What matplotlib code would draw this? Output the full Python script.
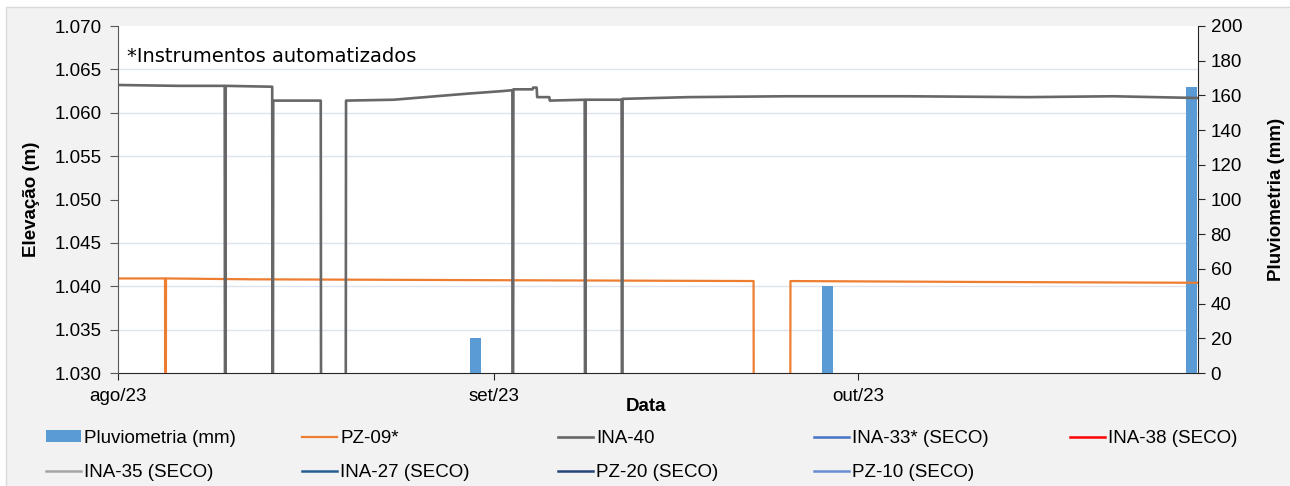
import matplotlib.pyplot as plt
import matplotlib.ticker as mticker
from matplotlib.patches import Rectangle
import pandas as pd

# Pluviometria (mm)
chuva_datas = ['2023-08-30', '2023-09-28', '2023-10-28']
chuva_mm = [20, 50, 165]

# PZ-09*  (1.000 = leitura falha, fica fora da escala)
pz09_datas = ['2023-08-01 00:00', '2023-08-04 21:00', '2023-08-04 22:00', '2023-08-04 23:00',
              '2023-08-12 00:00', '2023-09-01 00:00', '2023-09-22 09:00', '2023-09-22 10:00',
              '2023-09-25 09:00', '2023-09-25 10:00', '2023-10-10 00:00', '2023-10-29 00:00']
pz09_elev = [1.0409, 1.0409, 1.000, 1.0409,
             1.0408, 1.0407, 1.0406, 1.000,
             1.000, 1.0406, 1.0405, 1.0404]

# INA-40
ina40_datas = ['2023-08-01 00:00', '2023-08-06 00:00', '2023-08-09 19:00', '2023-08-09 20:00',
               '2023-08-09 21:00', '2023-08-13 17:00', '2023-08-13 18:00', '2023-08-13 19:00',
               '2023-08-17 17:00', '2023-08-17 18:00', '2023-08-19 18:00', '2023-08-19 19:00',
               '2023-08-23 17:00', '2023-08-29 19:00', '2023-09-01 17:00', '2023-09-02 12:00',
               '2023-09-02 13:00', '2023-09-02 14:00', '2023-09-04 04:00', '2023-09-04 05:00',
               '2023-09-04 12:00', '2023-09-04 13:00', '2023-09-05 13:00', '2023-09-05 14:00',
               '2023-09-08 11:00', '2023-09-08 12:00', '2023-09-08 13:00', '2023-09-11 12:00',
               '2023-09-11 13:00', '2023-09-11 14:00', '2023-09-17 00:00', '2023-09-25 00:00',
               '2023-10-05 00:00', '2023-10-15 00:00', '2023-10-22 00:00', '2023-10-29 00:00']
ina40_elev = [1.0632, 1.0631, 1.0631, 1.000,
              1.0631, 1.0630, 1.000, 1.0614,
              1.0614, 1.000, 1.000, 1.0614,
              1.0615, 1.0622, 1.0625, 1.0626,
              1.000, 1.0627, 1.0627, 1.0629,
              1.0629, 1.0618, 1.0618, 1.0614,
              1.0615, 1.000, 1.0615, 1.0615,
              1.000, 1.0616, 1.0618, 1.0619,
              1.0619, 1.0618, 1.0619, 1.0617]

# instrumentos secos (sem leitura)
secos = ['INA-33* (SECO)', 'INA-38 (SECO)', 'INA-35 (SECO)', 'INA-27 (SECO)', 'PZ-20 (SECO)', 'PZ-10 (SECO)']
cores_secos = ['#4472C4', '#FF0000', '#A5A5A5', '#255E91', '#264478', '#698ED0']

meses = ['2023-08-01', '2023-09-01', '2023-10-01']
meses_rotulos = ['ago/23', 'set/23', 'out/23']

plt.rcParams['font.family'] = ['Liberation Sans', 'DejaVu Sans']
plt.rcParams['font.size'] = 13.5

fig = plt.figure(figsize=(12.9, 4.86), dpi=100, facecolor='white')
fig.patches.append(Rectangle((6 / 1290, -0.01), 1.02, 1 - 7 / 486 + 0.01, transform=fig.transFigure,
                             facecolor='#f2f2f2', edgecolor='#d9d9d9', lw=1, zorder=-10))

ax2 = fig.add_axes([118 / 1290, 1 - 373 / 486, 1080 / 1290, 347 / 486])
ax1 = ax2.twinx()
ax1.yaxis.tick_left()
ax1.yaxis.set_label_position('left')
ax2.yaxis.tick_right()
ax2.yaxis.set_label_position('right')
ax1.set_zorder(ax2.get_zorder() + 1)
ax1.patch.set_visible(False)
ax2.set_facecolor('white')

# barras
barras = ax2.bar(pd.to_datetime(chuva_datas), chuva_mm, width=0.9, align='edge',
                 color='#5B9BD5', label='Pluviometria (mm)', zorder=3)
ax2.set_ylim(0, 200)
ax2.yaxis.set_major_locator(mticker.MultipleLocator(20))
ax2.yaxis.set_minor_locator(mticker.MultipleLocator(25))
ax2.grid(which='minor', axis='y', color='#dde3ef', lw=1, zorder=0)
ax2.tick_params(axis='y', which='minor', length=0)
ax2.tick_params(axis='y', which='major', direction='out', length=5, color='#262626', pad=4)
ax2.set_ylabel('Pluviometria (mm)', fontweight='bold', labelpad=19)

# linhas
l1, = ax1.plot(pd.to_datetime(pz09_datas), pz09_elev, color='#ED7D31', lw=1.6, label='PZ-09*')
l2, = ax1.plot(pd.to_datetime(ina40_datas), ina40_elev, color='#676767', lw=1.9, label='INA-40')
linhas_secas = []
for nome, cor in zip(secos, cores_secos):
    l, = ax1.plot([], [], color=cor, lw=1.8, label=nome)
    linhas_secas.append(l)

ax1.set_ylim(1.030, 1.070)
ax1.yaxis.set_major_locator(mticker.MultipleLocator(0.005))
ax1.yaxis.set_major_formatter(mticker.FormatStrFormatter('%.3f'))
ax1.tick_params(axis='y', direction='out', length=6, color='#595959', pad=6)
ax1.set_ylabel('Elevação (m)', fontweight='bold', labelpad=10)

ax2.set_xlim(pd.Timestamp('2023-08-01'), pd.Timestamp('2023-10-29'))
ax2.set_xticks(pd.to_datetime(meses))
ax2.set_xticklabels(meses_rotulos)
ax2.tick_params(axis='x', direction='out', length=5, color='#262626', pad=6)
ax1.tick_params(axis='x', length=0)
ax2.set_xlabel('Data', fontweight='bold')
ax2.xaxis.set_label_coords((646 - 118) / 1080, -0.072)

for a in (ax1, ax2):
    a.spines['top'].set_visible(False)
ax1.spines['left'].set_color('#595959')
ax1.spines['right'].set_visible(False)
ax2.spines['left'].set_visible(False)
ax2.spines['right'].set_color('#262626')
ax2.spines['bottom'].set_color('#262626')
ax1.spines['bottom'].set_visible(False)

ax1.text(0.008, 0.896, '*Instrumentos automatizados', transform=ax1.transAxes,
         fontsize=14, family='DejaVu Sans', va='baseline', ha='left')

# legenda em 5 colunas
colunas = [[barras, linhas_secas[2]], [l1, linhas_secas[3]], [l2, linhas_secas[4]],
           [linhas_secas[0], linhas_secas[5]], [linhas_secas[1]]]
for i, col in enumerate(colunas):
    x0 = (46 + 256 * i) / 1290
    fig.legend(handles=col, labels=[h.get_label() for h in col], loc='upper left',
               bbox_to_anchor=(x0, 1 - 430 / 486), frameon=False, borderpad=0,
               borderaxespad=0, handlelength=1.85, handleheight=0.6, handletextpad=0.2,
               labelspacing=0.9, fontsize=13.5)

fig.savefig('out.png', dpi=100, facecolor=fig.get_facecolor())
